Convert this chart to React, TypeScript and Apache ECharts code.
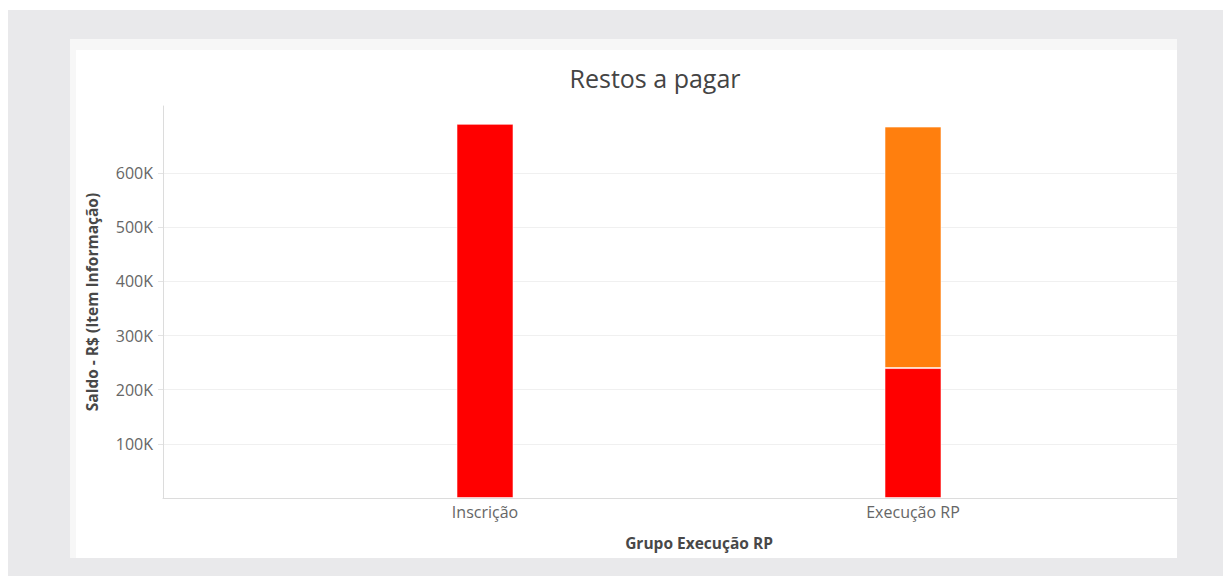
import React, { useEffect, useRef } from "react";
import * as echarts from "echarts";

const TITLE = "Restos a pagar";
const CATEGORIES = ["Inscrição", "Execução RP"];
const SERIES_RED_NAME = "Série 1";
const SERIES_ORANGE_NAME = "Série 2";
const RED_VALUES = [691000, 240000];
const ORANGE_VALUES: (number | null)[] = [null, 446000];
const Y_TICKS = [100000, 200000, 300000, 400000, 500000, 600000];
const Y_MAX = 724000;
const X_NAME = "Grupo Execução RP";
const Y_NAME = "Saldo - R$ (Item Informação)";

const FONT = "'Open Sans', 'Noto Sans', sans-serif";

export default function App() {
  const ref = useRef<HTMLDivElement>(null);

  useEffect(() => {
    if (!ref.current) return;
    const chart = echarts.init(ref.current, undefined, { renderer: "svg" });
    const option: any = {
      animation: false,
      textStyle: { fontFamily: FONT },
      graphic: [
        {
          type: "text",
          x: 655,
          y: 78,
          style: {
            text: TITLE,
            fontFamily: FONT,
            fontSize: 25,
            fill: "#444",
            textAlign: "center",
            textVerticalAlign: "middle",
          },
        },
      ],
      grid: [
        { left: 163, right: 46, top: 106, bottom: 78 },
        { left: 271, right: 96, top: 106, bottom: 78 },
      ],
      xAxis: [
        {
          gridIndex: 0,
          type: "value",
          min: 0,
          max: 1,
          axisLine: { show: true, lineStyle: { color: "#dcdcdc", width: 1 } },
          axisTick: { show: false },
          axisLabel: { show: false },
          splitLine: { show: false },
        },
        {
          gridIndex: 1,
          type: "category",
          data: CATEGORIES,
          axisLine: { show: false },
          axisTick: { show: false },
          axisLabel: {
            color: "#666",
            fontSize: 16,
            fontFamily: FONT,
            margin: 6,
          },
          name: X_NAME,
          nameLocation: "middle",
          nameGap: 37,
          nameTextStyle: {
            color: "#484848",
            fontSize: 15.5,
            fontWeight: "bold",
            fontFamily: FONT,
          },
        },
      ],
      yAxis: [
        {
          gridIndex: 0,
          type: "value",
          min: 0,
          max: Y_MAX,
          axisLine: { show: true, lineStyle: { color: "#dcdcdc", width: 1 } },
          axisTick: {
            show: true,
            length: 5,
            customValues: Y_TICKS,
            lineStyle: { color: "#e3e3e3" },
          },
          axisLabel: {
            customValues: Y_TICKS,
            color: "#666",
            fontSize: 16,
            fontFamily: FONT,
            margin: 10,
            formatter: (v: number) => `${Math.round(v / 1000)}K`,
          },
          splitLine: { show: true, lineStyle: { color: "#f0f0f0", width: 1 } },
          name: Y_NAME,
          nameLocation: "middle",
          nameGap: 63,
          nameTextStyle: {
            color: "#484848",
            fontSize: 15.5,
            fontWeight: "bold",
            fontFamily: FONT,
          },
        },
        {
          gridIndex: 1,
          type: "value",
          min: 0,
          max: Y_MAX,
          show: false,
          splitLine: { show: false },
        },
      ],
      series: [
        {
          name: SERIES_RED_NAME,
          type: "bar",
          xAxisIndex: 1,
          yAxisIndex: 1,
          stack: "total",
          barWidth: 57,
          data: RED_VALUES,
          itemStyle: {
            color: "#ff0000",
            borderColor: "rgba(255,255,255,0.55)",
            borderWidth: 1,
          },
        },
        {
          name: SERIES_ORANGE_NAME,
          type: "bar",
          xAxisIndex: 1,
          yAxisIndex: 1,
          stack: "total",
          barWidth: 57,
          data: ORANGE_VALUES,
          itemStyle: {
            color: "#ff7f0e",
            borderColor: "rgba(255,255,255,0.55)",
            borderWidth: 1,
          },
        },
      ],
    };
    chart.setOption(option);
    return () => chart.dispose();
  }, []);

  return (
    <div
      style={{
        position: "fixed",
        left: 0,
        top: 0,
        width: 1223,
        height: 576,
        background: "#ffffff",
        overflow: "hidden",
      }}
    >
      <div
        style={{
          position: "absolute",
          left: 8,
          top: 10,
          width: 1215,
          height: 566,
          background: "#e9e9eb",
        }}
      />
      <div
        style={{
          position: "absolute",
          left: 70,
          top: 39,
          width: 1107,
          height: 519,
          background: "#f7f7f7",
        }}
      />
      <div
        style={{
          position: "absolute",
          left: 76,
          top: 50,
          width: 1101,
          height: 508,
          background: "#ffffff",
        }}
      />
      <div
        ref={ref}
        style={{ position: "absolute", left: 0, top: 0, width: 1223, height: 576 }}
      />
    </div>
  );
}
